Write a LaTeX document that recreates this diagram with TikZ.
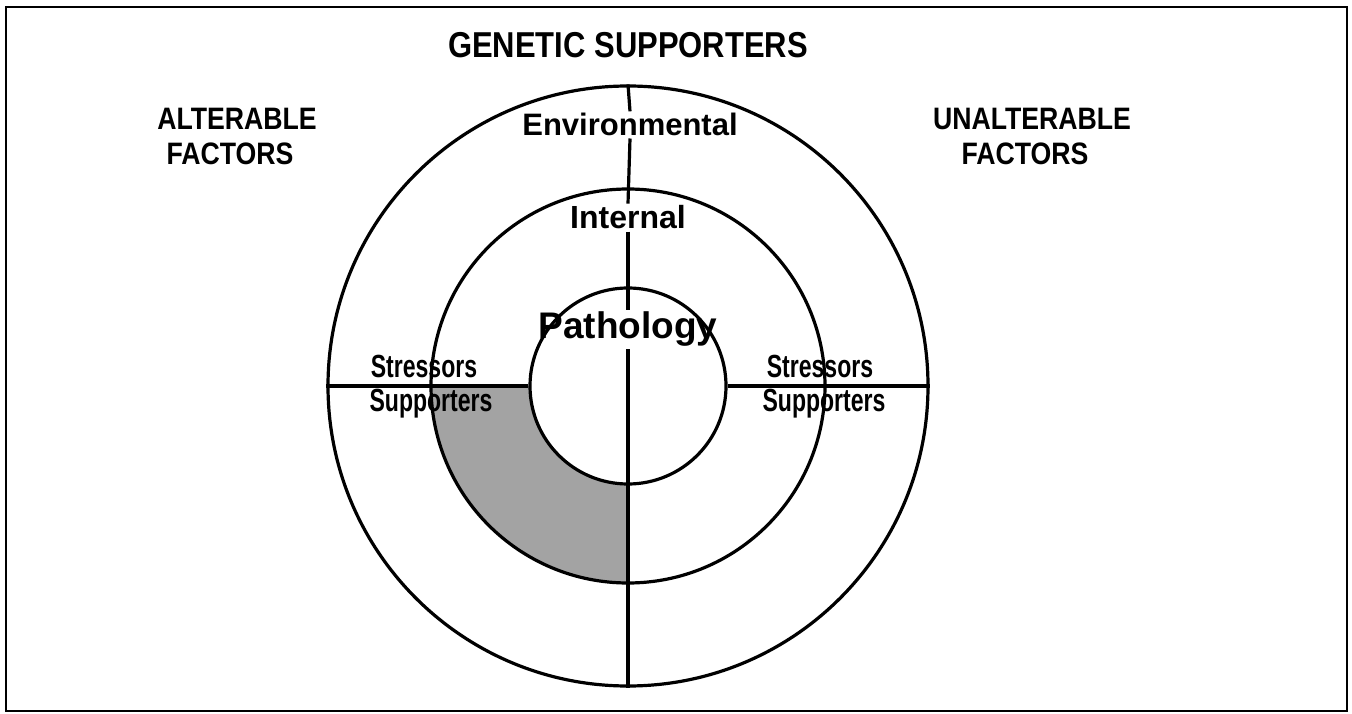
\documentclass[tikz,border=0pt]{standalone}
\usepackage{fontspec}
\setmainfont{Liberation Sans}
\newfontfamily\condfont[FakeStretch=0.72]{Liberation Sans}
\newfontfamily\headfont[FakeStretch=0.86]{Liberation Sans}
\begin{document}
\begin{tikzpicture}[x=1pt,y=1pt,
  txt/.style={anchor=base, inner sep=0pt, text=black},
  bigbold/.style={txt, font=\headfont\bfseries\fontsize{36}{36}\selectfont},
  factor/.style={txt, font=\headfont\bfseries\fontsize{31}{31}\selectfont},
  ringlbl/.style={txt, inner sep=2pt, font=\bfseries\fontsize{#1}{#1}\selectfont},
  cond/.style={txt, font=\condfont\bfseries\fontsize{32}{32}\selectfont},
  ring/.style={circle, draw, line width=3.2pt, inner sep=0pt, minimum size=#1},
  divider/.style={line width=3.2pt},
  hdivider/.style={line width=4pt},
  shadearea/.style={fill=black!36}]
\useasboundingbox (0,0) rectangle (1352,713);
\draw[line width=2pt] (6,2) rectangle (1347,706);
\coordinate (c) at (628,327);
% shaded quadrant of the middle ring
\fill[shadearea] ([shift={(-98,0)}]c) -- ([shift={(-197,0)}]c)
  arc[start angle=180, end angle=270, radius=197]
  -- ([shift={(0,-98)}]c)
  arc[start angle=270, end angle=180, radius=98] -- cycle;
% rings
\node[ring=600pt] (outer) at (c) {};
\node[ring=394pt] (middle) at (c) {};
\node[ring=196pt] (inner) at (c) {};
% labels
\node[bigbold] (title) at (628,655) {GENETIC SUPPORTERS};
\node[factor] (alt1) at (237,583) {ALTERABLE};
\node[factor] (alt2) at (230,548) {FACTORS};
\node[factor] (unalt1) at (1032,583) {UNALTERABLE};
\node[factor] (unalt2) at (1025,548) {FACTORS};
\node[ringlbl=31] (env) at (630,577) {Environmental};
\node[ringlbl=32] (int) at (628,484) {Internal};
\node[ringlbl=37] (path) at (628,374) {Pathology};
\node[cond] (lstr) at (424,335) {Stressors};
\node[cond] (lsup) at (431,301) {Supporters};
\node[cond] (rstr) at (820,335) {Stressors};
\node[cond] (rsup) at (824,301) {Supporters};
% dividers
\draw[hdivider] (outer.west) -- (inner.west);
\draw[hdivider] (inner.east) -- (outer.east);
\draw[divider] (outer.north) -- (env.north);
\draw[divider] (env.south) -- (int.north);
\draw[divider] (int.south) -- (path.north);
\draw[divider] (path.south) -- (outer.south);
\end{tikzpicture}
\end{document}
